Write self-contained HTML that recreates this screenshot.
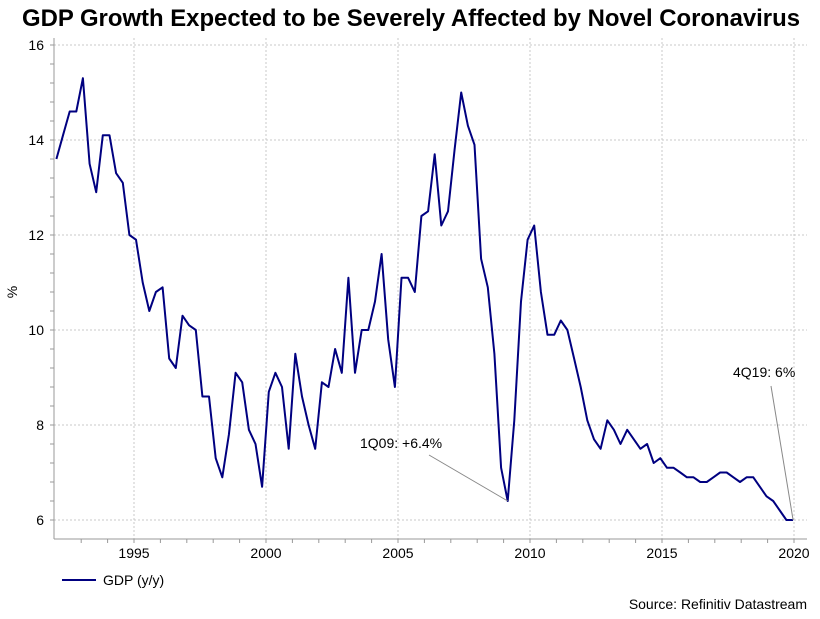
<!DOCTYPE html>
<html><head><meta charset="utf-8"><style>
body{margin:0;background:#fff;width:820px;height:614px;overflow:hidden;font-family:"Liberation Sans",Arial,sans-serif}
svg text{font-family:"Liberation Sans",Arial,sans-serif}
</style></head><body>
<svg id="chart" width="820" height="614" viewBox="0 0 820 614" xmlns="http://www.w3.org/2000/svg">
<text x="411" y="26" text-anchor="middle" font-size="23.9" font-weight="bold" fill="#000">GDP Growth Expected to be Severely Affected by Novel Coronavirus</text>
<g id="grid"></g><g id="axes"></g><g id="series"></g><g id="annot"></g>
<text x="17" y="292" font-size="14" text-anchor="middle" transform="rotate(-90 17 292)">%</text>
<line x1="62" y1="580" x2="96" y2="580" stroke="#000080" stroke-width="2"/>
<text x="103" y="585" font-size="14">GDP (y/y)</text>
<text x="807" y="609" font-size="14" text-anchor="end">Source: Refinitiv Datastream</text>
</svg>
<script>
const startYear = 1992;
const gdpValues = [
13.6,14.1,14.6,14.6, 15.3,13.5,12.9,14.1, 14.1,13.3,13.1,12.0,
11.9,11.0,10.4,10.8, 10.9,9.4,9.2,10.3, 10.1,10.0,8.6,8.6,
7.3,6.9,7.8,9.1, 8.9,7.9,7.6,6.7, 8.7,9.1,8.8,7.5,
9.5,8.6,8.0,7.5, 8.9,8.8,9.6,9.1, 11.1,9.1,10.0,10.0,
10.6,11.6,9.8,8.8, 11.1,11.1,10.8,12.4, 12.5,13.7,12.2,12.5,
13.8,15.0,14.3,13.9, 11.5,10.9,9.5,7.1, 6.4,8.1,10.6,11.9,
12.2,10.8,9.9,9.9, 10.2,10.0,9.4,8.8, 8.1,7.7,7.5,8.1,
7.9,7.6,7.9,7.7, 7.5,7.6,7.2,7.3, 7.1,7.1,7.0,6.9,
6.9,6.8,6.8,6.9, 7.0,7.0,6.9,6.8, 6.9,6.9,6.7,6.5,
6.4,6.2,6.0,6.0];
const yTicks = [6,8,10,12,14,16];
const xTickYears = [1995,2000,2005,2010,2015,2020];
const annotations = [{label:"1Q09: +6.4%", index:68, tx:360, ty:448, lx:429, ly:455},{label:"4Q19: 6%", index:111, tx:733, ty:377, lx:771, ly:386}];

const NS="http://www.w3.org/2000/svg";
const L=54,R=807,T=38,B=539;
const X=t=>134+(t-1995)*26.4;
const Y=v=>45+(16-v)*47.5;
function mk(tag,attrs,parent){const e=document.createElementNS(NS,tag);for(const k in attrs)e.setAttribute(k,attrs[k]);parent.appendChild(e);return e;}
const grid=document.getElementById('grid'),axes=document.getElementById('axes'),ser=document.getElementById('series'),an=document.getElementById('annot');
yTicks.forEach(v=>{
 const g=mk('line',{x1:L,x2:R,y1:Y(v),y2:Y(v),stroke:'#c8c8c8','stroke-dasharray':'2,2'},grid);
 
 
 const t=mk('text',{x:44,y:Y(v)+5,'font-size':14,'text-anchor':'end'},axes);t.textContent=v;
 
 
});
for(let v=6;v<=16.001;v+=0.4){mk('line',{x1:L-4,x2:L,y1:Y(v),y2:Y(v),stroke:'#999'},axes);}
xTickYears.forEach(y=>{
 const g=mk('line',{x1:X(y),x2:X(y),y1:T,y2:B,stroke:'#c8c8c8','stroke-dasharray':'2,2'},grid);
 
 
 const t=mk('text',{x:X(y),y:B+19,'font-size':14,'text-anchor':'middle'},axes);t.textContent=y;
 
 
});
for(let y=1993;y<=2020;y++){mk('line',{x1:X(y),x2:X(y),y1:B,y2:B+4,stroke:'#999'},axes);}
mk('line',{x1:L,x2:L,y1:T,y2:B,stroke:'#999'},axes);
mk('line',{x1:L,x2:R,y1:B,y2:B,stroke:'#999'},axes);
const tq=i=>startYear+0.06+i*0.2514;
const pts=gdpValues.map((v,i)=>X(tq(i)).toFixed(1)+','+Y(v).toFixed(1)).join(' ');
const pl=mk('polyline',{points:pts,fill:'none',stroke:'#000080','stroke-width':2,'stroke-linejoin':'round'},ser);


annotations.forEach(a=>{
 const ln=mk('line',{x1:a.lx,y1:a.ly,x2:X(tq(a.index)),y2:Y(gdpValues[a.index]),stroke:'#888'},an);
 
 
 const t=mk('text',{x:a.tx,y:a.ty,'font-size':14},an);t.textContent=a.label;
 
 
});
</script>
</body></html>
